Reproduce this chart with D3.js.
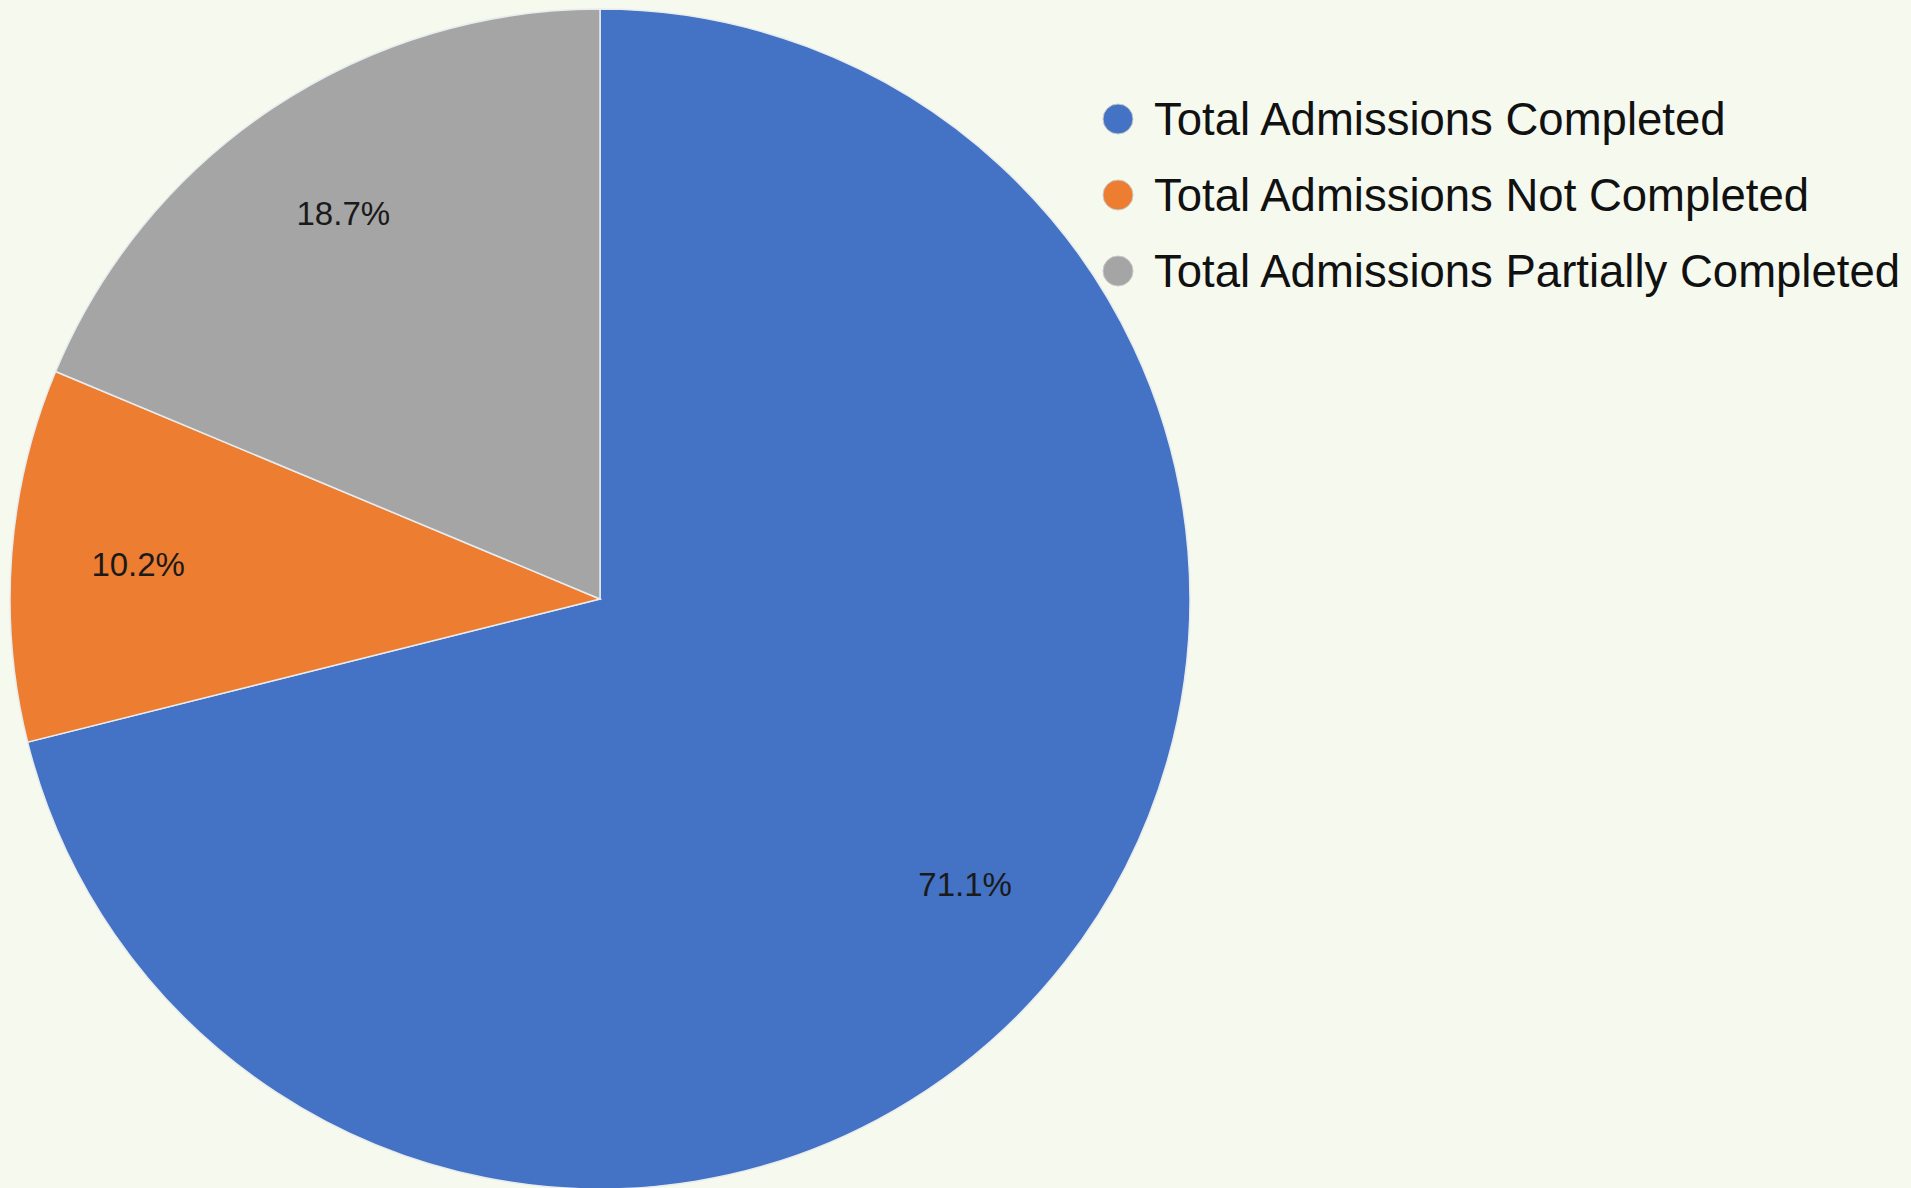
<!DOCTYPE html>
<html>
<head>
<meta charset="utf-8">
<script src="https://cdn.jsdelivr.net/npm/d3@7"></script>
<style>
  html, body { margin: 0; padding: 0; background: #F5F9EE; }
  svg { display: block; }
</style>
</head>
<body>
<svg id="chart" width="1911" height="1188"></svg>
<script>
// Admission status breakdown (percent of total admissions)
const categories = [
  "Total Admissions Completed",
  "Total Admissions Not Completed",
  "Total Admissions Partially Completed"
];
const shares = [71.1, 10.2, 18.7];
const colors = ["#4472C4", "#ED7D31", "#A5A5A5"];

const data = categories.map((c, i) => ({ name: c, value: shares[i], color: colors[i] }));

const svg = d3.select("#chart");
const W = 1911, H = 1188;

svg.append("rect").attr("width", W).attr("height", H).attr("fill", "#F5F9EE");

const cx = 600, cy = 599, R = 590;

const pie = d3.pie().sort(null).value(d => d.value);
const arc = d3.arc().innerRadius(0).outerRadius(R);
const labelArc = d3.arc().innerRadius(R * 0.785).outerRadius(R * 0.785);

const g = svg.append("g").attr("transform", `translate(${cx},${cy})`);
const arcs = pie(data);

g.selectAll("path.slice")
  .data(arcs)
  .join("path")
  .attr("class", "slice")
  .attr("d", arc)
  .attr("fill", d => d.data.color)
  .attr("stroke", "#E8ECEF")
  .attr("stroke-width", 1.5);

g.selectAll("text.pct")
  .data(arcs)
  .join("text")
  .attr("class", "pct")
  .attr("transform", d => `translate(${labelArc.centroid(d)})`)
  .attr("text-anchor", "middle")
  .attr("dominant-baseline", "central")
  .attr("font-family", "'Liberation Sans', Arial, sans-serif")
  .attr("font-size", 33)
  .attr("fill", "#1a1a1a")
  .text(d => d.data.value.toFixed(1) + "%");

// Legend
const legend = svg.append("g").attr("transform", "translate(1118,119)");
const rowH = 76;
const items = legend.selectAll("g.item")
  .data(data)
  .join("g")
  .attr("class", "item")
  .attr("transform", (d, i) => `translate(0,${i * rowH})`);

items.append("circle")
  .attr("r", 15)
  .attr("fill", d => d.color)
  .attr("stroke", "#c8c8c8")
  .attr("stroke-width", 1);

items.append("text")
  .attr("x", 36)
  .attr("y", 0)
  .attr("dominant-baseline", "central")
  .attr("font-family", "'Liberation Sans', Arial, sans-serif")
  .attr("font-size", 45.5)
  .attr("fill", "#111")
  .text(d => d.name);
</script>
</body>
</html>
